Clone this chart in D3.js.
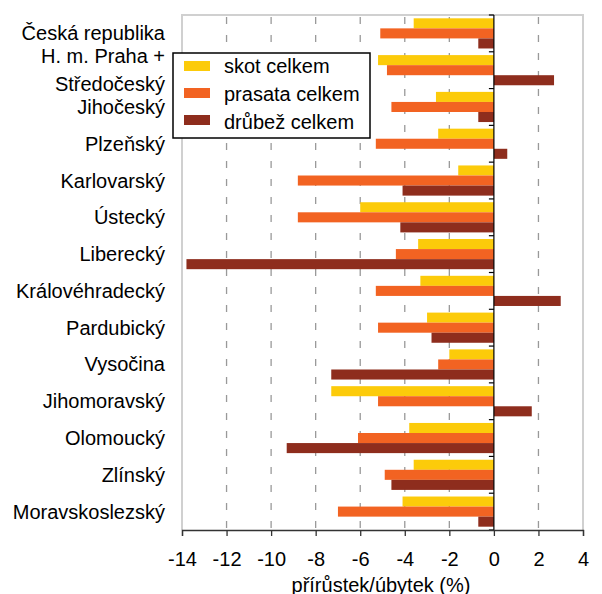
<html>
<head>
<meta charset="utf-8">
<script src="https://d3js.org/d3.v7.min.js"></script>
<style>
    body { margin: 0; background: #fff; }
    svg { display: block; font-family: "Liberation Sans", Arial, sans-serif; }
</style>
</head>
<body>
<div id="chart"></div>
<script>
// data
var regions = ["Česká republika", "H. m. Praha +|Středočeský", "Jihočeský", "Plzeňský", "Karlovarský",
    "Ústecký", "Liberecký", "Královéhradecký", "Pardubický", "Vysočina", "Jihomoravský",
    "Olomoucký", "Zlínský", "Moravskoslezský"];
var seriesNames = ["skot celkem", "prasata celkem", "drůbež celkem"];
var skot    = [-3.6, -5.2, -2.6, -2.5, -1.6, -6.0, -3.4, -3.3, -3.0, -2.0, -7.3, -3.8, -3.6, -4.1];
var prasata = [-5.1, -4.8, -4.6, -5.3, -8.8, -8.8, -4.4, -5.3, -5.2, -2.5, -5.2, -6.1, -4.9, -7.0];
var drubez  = [-0.7, 2.7, -0.7, 0.6, -4.1, -4.2, -13.8, 3.0, -2.8, -7.3, 1.7, -9.3, -4.6, -0.7];
var xTicks  = [-14, -12, -10, -8, -6, -4, -2, 0, 2, 4];
var colors  = ["#fccb0a", "#f26322", "#8e2d1d"];

var values = [skot, prasata, drubez];

var svg = d3.select("#chart").append("svg")
    .attr("width", 602)
    .attr("height", 594);

var plotL = 182, plotR = 583, plotT = 15, plotB = 530;

var x = d3.scaleLinear().domain([-14, 4]).range([plotL, plotR]);
var y = d3.scaleBand().domain(d3.range(regions.length)).range([plotT, plotB])
    .paddingInner(0.18).paddingOuter(0.09);
var ySub = d3.scaleBand().domain(d3.range(3)).range([0, y.bandwidth()]);
var step = (plotB - plotT) / regions.length;

// dashed gridlines
svg.selectAll(".grid")
    .data(xTicks.filter(function(d) { return d != -14 && d != 4 && d != 0; }))
    .enter().append("line")
    .attr("x1", function(d) { return x(d); })
    .attr("x2", function(d) { return x(d); })
    .attr("y1", plotT + 2)
    .attr("y2", plotB)
    .style("stroke", "#999")
    .style("stroke-width", 1.3)
    .style("stroke-dasharray", "7,11");

// plot frame
svg.append("path")
    .attr("d", "M" + plotL + "," + plotB + "V" + plotT + "H" + plotR + "V" + plotB)
    .style("fill", "none")
    .style("stroke", "#d0d0d0")
    .style("stroke-width", 2);

// bars
values.forEach(function(vals, s) {
    svg.selectAll(".bar" + s)
        .data(vals)
        .enter().append("rect")
        .attr("x", function(d) { return x(Math.min(0, d)); })
        .attr("y", function(d, i) { return y(i) + ySub(s); })
        .attr("width", function(d) { return Math.abs(x(d) - x(0)); })
        .attr("height", ySub.bandwidth())
        .style("fill", colors[s]);
});

// zero line with category ticks
svg.append("line")
    .attr("x1", x(0)).attr("x2", x(0))
    .attr("y1", plotT).attr("y2", plotB)
    .style("stroke", "#000")
    .style("stroke-width", 1.2);

svg.selectAll(".ctick")
    .data(d3.range(regions.length + 1))
    .enter().append("line")
    .attr("x1", x(0) - 5).attr("x2", x(0))
    .attr("y1", function(d) { return plotT + d * step; })
    .attr("y2", function(d) { return plotT + d * step; })
    .style("stroke", "#000")
    .style("stroke-width", 1.2);

// bottom axis
var axis = d3.axisBottom(x).tickValues(xTicks).tickSize(6).tickPadding(16)
    .tickFormat(function(d) { return String(d); });
var gx = svg.append("g")
    .attr("transform", "translate(0," + plotB + ")")
    .call(axis);
gx.select(".domain").style("stroke", "#333").style("stroke-width", 1.3);
gx.selectAll(".tick line").style("stroke", "#333").style("stroke-width", 1.3);
gx.selectAll(".tick text")
    .style("font-size", "20px")
    .style("font-family", "'Liberation Sans', Arial, sans-serif")
    .style("fill", "#000");

// category labels
regions.forEach(function(r, i) {
    var lines = r.split("|");
    var cy = y(i) + y.bandwidth() / 2;
    lines.forEach(function(t, j) {
        svg.append("text")
            .attr("x", 165)
            .attr("y", cy + (j - (lines.length - 1) / 2) * 28)
            .attr("dy", "0.35em")
            .attr("text-anchor", "end")
            .style("font-size", "20px")
            .text(t);
    });
});

// axis title
svg.append("text")
    .attr("x", 381)
    .attr("y", 592)
    .attr("text-anchor", "middle")
    .style("font-size", "20px")
    .text("přírůstek/úbytek (%)");

// legend
var lg = svg.append("g");
lg.append("rect")
    .attr("x", 173).attr("y", 53)
    .attr("width", 197).attr("height", 85)
    .style("fill", "#fff")
    .style("stroke", "#000")
    .style("stroke-width", 1.5);

seriesNames.forEach(function(n, i) {
    lg.append("rect")
        .attr("x", 184).attr("y", 61 + i * 27)
        .attr("width", 26).attr("height", 10)
        .style("fill", colors[i]);
    lg.append("text")
        .attr("x", 224)
        .attr("y", 73 + i * 28)
        .style("font-size", "20px")
        .text(n);
});
</script>
</body>
</html>
